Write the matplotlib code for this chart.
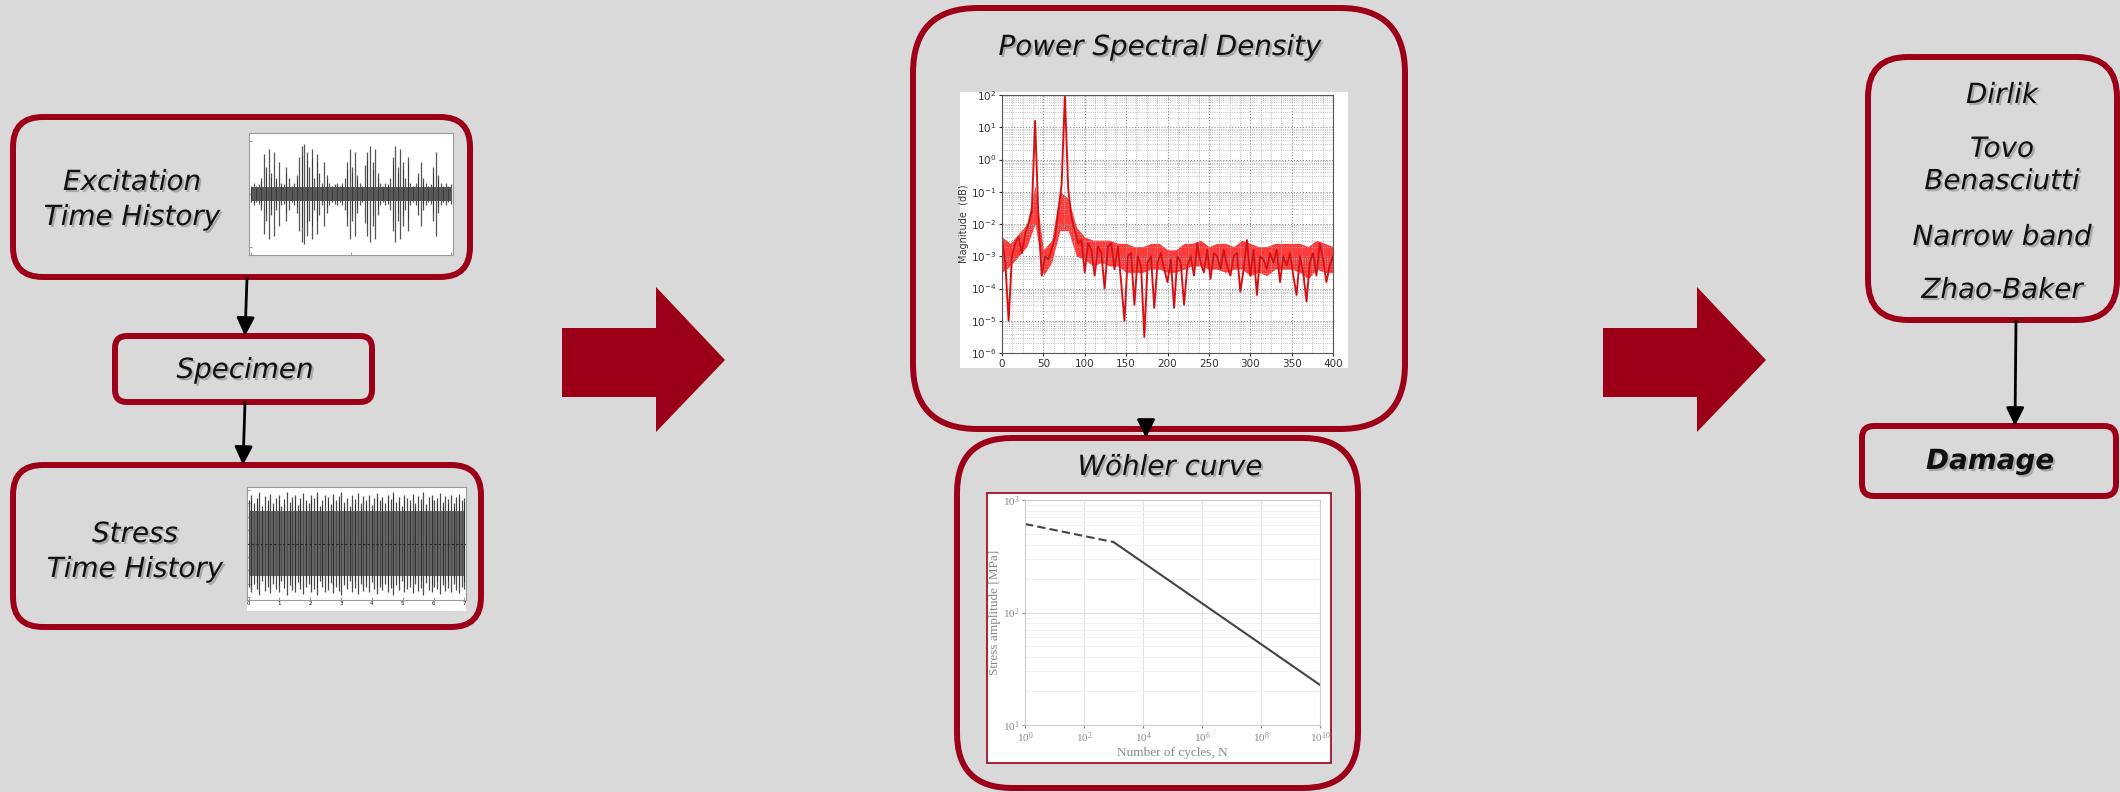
import numpy as np
import matplotlib.pyplot as plt
import matplotlib.patches as mpatches
import matplotlib.patheffects as pe

W, H = 2120, 792
BG = '#d9d9d9'
RED = '#9c0018'

# excitation time history: amplitude envelope
exc_env = [0.15, 0.2, 0.15, 0.18, 0.3, 0.75, 0.5, 0.85, 0.4, 0.8, 0.3, 0.6, 0.2, 0.18,
           0.5, 0.3, 0.15, 0.2, 0.35, 0.7, 0.9, 0.95, 0.8, 0.5, 0.85, 0.3, 0.75, 0.4,
           0.2, 0.6, 0.35, 0.2, 0.15, 0.18, 0.2, 0.15, 0.2, 0.3, 0.6, 0.85, 0.5, 0.8,
           0.35, 0.2, 0.15, 0.55, 0.8, 0.9, 0.6, 0.85, 0.4, 0.2, 0.15, 0.2, 0.18, 0.3,
           0.7, 0.9, 0.5, 0.85, 0.6, 0.3, 0.7, 0.2, 0.15, 0.2, 0.4, 0.6, 0.3, 0.2,
           0.15, 0.18, 0.5, 0.8, 0.35, 0.2, 0.15, 0.2, 0.15, 0.18]
exc_core = 0.14

# stress time history: amplitude envelope
stress_env = [0.8, 0.9, 0.75, 0.85, 0.95, 0.7, 0.88, 0.8, 0.92, 0.75, 0.85, 0.9, 0.7, 0.82,
              0.95, 0.78, 0.86, 0.9, 0.72, 0.84, 0.93, 0.8, 0.76, 0.9, 0.85, 0.95, 0.7, 0.8,
              0.9, 0.86, 0.74, 0.92, 0.8, 0.88, 0.95, 0.78, 0.84, 0.7, 0.9, 0.82, 0.94, 0.76,
              0.88, 0.8, 0.9, 0.72, 0.85, 0.93, 0.8, 0.87, 0.75, 0.9, 0.83, 0.95, 0.78, 0.86,
              0.7, 0.9, 0.84, 0.8, 0.92, 0.76, 0.88, 0.82, 0.95, 0.74, 0.86, 0.9, 0.8, 0.84,
              0.93, 0.77, 0.88, 0.82, 0.9, 0.75, 0.86, 0.92, 0.8, 0.85]
stress_core = 0.6
stress_ticks = [0, 1, 2, 3, 4, 5, 6, 7]

# PSD magnitude, log10 values, 0..400 Hz
psd_log_mag = [-2.5, -3.2, -5.0, -3.0, -2.6, -2.4, -2.9, -2.3, -2.0, -1.6, 1.2, -1.8, -3.6,
               -3.0, -3.1, -2.8, -2.4, -1.6, -0.8, 2.0, -0.9, -1.8, -2.2, -2.6, -2.5, -3.5,
               -2.6, -2.8, -3.6, -2.7, -2.9, -4.0, -2.7, -2.6, -3.4, -2.7, -3.8, -5.0, -3.0,
               -2.9, -4.5, -3.0, -3.3, -5.5, -3.2, -3.0, -4.6, -3.2, -2.9, -3.4, -3.8, -3.1,
               -4.6, -3.0, -3.2, -4.5, -3.3, -3.0, -3.6, -2.6, -3.2, -3.5, -2.8, -3.7, -2.9,
               -3.0, -3.4, -2.8, -3.3, -3.6, -3.0, -2.9, -4.1, -3.4, -2.5, -3.6, -2.8, -4.2,
               -3.0, -3.1, -3.4, -2.9, -3.2, -2.8, -3.8, -3.0, -3.3, -2.9, -3.6, -4.2, -3.0,
               -3.5, -4.4, -3.2, -2.9, -3.6, -2.6, -3.1, -3.8, -3.3, -3.0]
# dense core of the PSD trace, every 10 Hz (log10)
psd_core_hi = [-2.4, -2.6, -2.3, -2.0, -0.8, -2.8, -2.5, -1.0, -1.2, -2.1, -2.4, -2.5, -2.5,
               -2.5, -2.6, -2.6, -2.7, -2.7, -2.6, -2.6, -2.8, -2.8, -2.6, -2.6, -2.5, -2.7,
               -2.6, -2.6, -2.7, -2.5, -2.6, -2.7, -2.7, -2.6, -2.6, -2.6, -2.6, -2.7, -2.5,
               -2.6, -2.7]
psd_core_lo = [-3.5, -3.3, -3.0, -2.7, -2.0, -3.6, -3.2, -2.2, -2.2, -3.0, -3.1, -3.3, -3.2,
               -3.3, -3.3, -3.5, -3.5, -3.5, -3.4, -3.4, -3.5, -3.5, -3.4, -3.3, -3.3, -3.4,
               -3.4, -3.5, -3.4, -3.4, -3.6, -3.5, -3.6, -3.4, -3.4, -3.4, -3.5, -3.7, -3.4,
               -3.5, -3.5]
psd_xticks = [0, 50, 100, 150, 200, 250, 300, 350, 400]

# Woehler curve
sn_cycles = [1, 1e3, 1e10]
sn_stress = [612, 423, 22.7]

methods = ['Dirlik', 'Tovo\nBenasciutti', 'Narrow band', 'Zhao-Baker']

plt.rcParams['font.family'] = ['DejaVu Sans']
fig = plt.figure(figsize=(21.2, 7.92), dpi=100, facecolor=BG)
ax = fig.add_axes([0, 0, 1, 1])
ax.set_xlim(0, W)
ax.set_ylim(H, 0)
ax.axis('off')

shadow = [pe.withSimplePatchShadow(offset=(1.5, -1.5), shadow_rgbFace='#7a7a7a', alpha=0.5)]


def box(x0, y0, x1, y1, r):
    ax.add_patch(mpatches.FancyBboxPatch((x0, y0), x1 - x0, y1 - y0,
                 boxstyle=f'round,pad=0,rounding_size={r}',
                 facecolor='none', edgecolor=RED, linewidth=4.3, zorder=3))


def label(x, y, s, **kw):
    ax.text(x, y, s, ha='center', va='center', fontsize=20, style='italic',
            color='#111111', path_effects=shadow, zorder=5, **kw)


def arrow(x0, y0, x1, y1):
    ax.annotate('', xy=(x1, y1), xytext=(x0, y0),
                arrowprops=dict(arrowstyle='-|>,head_length=0.55,head_width=0.27',
                                color='black', lw=2, mutation_scale=20,
                                shrinkA=0, shrinkB=0), zorder=4)


def big_arrow(x0):
    pts = [(x0, 328), (x0 + 94, 328), (x0 + 94, 287), (x0 + 163, 360),
           (x0 + 94, 432), (x0 + 94, 397), (x0, 397)]
    ax.add_patch(mpatches.Polygon(pts, closed=True, facecolor=RED, edgecolor='none'))


def inset(x0, y0, x1, y1):
    return fig.add_axes([x0 / W, 1 - y1 / H, (x1 - x0) / W, (y1 - y0) / H])


# ---- left column ----
box(13, 117, 470, 277, 30)
label(132, 182, 'Excitation')
label(132, 217, 'Time History')
box(115, 336, 372, 402, 12)
label(245, 370, 'Specimen')
box(13, 465, 481, 627, 30)
label(135, 534, 'Stress')
label(135, 569, 'Time History')
arrow(247, 278, 245, 336)
arrow(245, 402, 243, 465)

ex = inset(249, 133, 453, 255)
t = np.linspace(0, 1, len(exc_env))
env = np.array(exc_env)
ex.fill_between([0, 1], -exc_core, exc_core, color='#5a5a5a', lw=0)
ex.vlines(t, -env, env, color='#555555', lw=0.9)
ex.vlines(t[::2], -env[::2] * 0.7, env[::2] * 0.8, color='#333333', lw=0.6)
ex.set_xlim(-0.01, 1.01)
ex.set_ylim(-1.15, 1.15)
ex.tick_params(direction='in', length=2, labelbottom=False, labelleft=False, color='#999')
for s in ex.spines.values():
    s.set_color('#999999')

st = inset(247, 487, 466, 600)
t2 = np.linspace(0, 7, len(stress_env))
env2 = np.array(stress_env)
st.fill_between([0, 7], -stress_core, stress_core, color='#6a6a6a', lw=0)
st.vlines(t2, -env2, env2, color='#4a4a4a', lw=0.9)
st.vlines(t2[1::2], -env2[1::2] * 0.85, env2[1::2] * 0.9, color='#2a2a2a', lw=0.6)
st.axhline(0, color='#222222', lw=0.8, ls=(0, (2, 2)))
st.set_xlim(-0.05, 7.05)
st.set_ylim(-1.05, 1.05)
st.set_xticks(stress_ticks)
st.tick_params(direction='in', length=2, labelsize=4, pad=1, labelleft=False, color='#999')
for s in st.spines.values():
    s.set_color('#999999')
ax.add_patch(mpatches.Rectangle((247, 487), 219, 124, facecolor='white', edgecolor='none', zorder=1))

# ---- middle column ----
box(913, 8, 1405, 429, 65)
label(1160, 47, 'Power Spectral Density')
ax.add_patch(mpatches.Rectangle((960, 92), 388, 276, facecolor='white', edgecolor='none', zorder=1))
ps = inset(1002, 95, 1333, 353)
freq = np.linspace(0, 400, len(psd_log_mag))
fcore = np.linspace(0, 400, len(psd_core_hi))
ps.fill_between(fcore, 10 ** np.array(psd_core_lo), 10 ** np.array(psd_core_hi),
                color='#ff1a1a', alpha=0.85, lw=0)
ps.plot(freq, 10 ** np.array(psd_log_mag), color='#e8161c', lw=1.4)
ps.plot(freq, 10 ** np.array(psd_log_mag), color='#8a1010', lw=0.4, alpha=0.6)
ps.set_yscale('log')
ps.set_xlim(0, 400)
ps.set_ylim(1e-6, 1e2)
ps.set_xticks(psd_xticks)
ps.set_xticks(np.arange(0, 401, 12.5), minor=True)
ps.set_yticks([10.0 ** k for k in range(-6, 3)])
ps.grid(True, which='major', color='#8c8c8c', ls=':', lw=0.8)
ps.grid(True, which='minor', color='#a8a8a8', ls=':', lw=0.6)
ps.tick_params(labelsize=7.5, colors='#333333', length=2, pad=2)
ps.tick_params(which='minor', length=0)
ps.set_ylabel('Magnitude  (dB)', fontsize=7, color='#333333', labelpad=1)
for s in ps.spines.values():
    s.set_color('#555555')
    s.set_linewidth(0.8)

arrow(1146, 429, 1146, 438)
box(957, 438, 1358, 788, 55)
label(1170, 467, 'Wöhler curve')
ax.add_patch(mpatches.Rectangle((987, 493), 344, 270, facecolor='white', edgecolor=RED, lw=1.2, zorder=1))
wo = inset(1025, 500, 1320, 725)
wo.plot(sn_cycles[:2], sn_stress[:2], color='#444444', lw=1.5, ls=(0, (4, 2)))
wo.plot(sn_cycles[1:], sn_stress[1:], color='#444444', lw=1.5)
wo.set_xscale('log')
wo.set_yscale('log')
wo.set_xlim(1, 1e10)
wo.set_ylim(10, 1000)
wo.set_xticks([10.0 ** k for k in range(0, 11, 2)])
wo.set_xticks([], minor=True)
wo.grid(True, which='major', color='#e2e2e2', lw=0.8)
wo.grid(True, which='minor', axis='y', color='#efefef', lw=0.6)
serif = ['Liberation Serif', 'DejaVu Serif']
wo.tick_params(labelsize=8, colors='#888888', length=2, pad=2)
wo.tick_params(which='minor', length=0)
for lab in wo.get_xticklabels() + wo.get_yticklabels():
    lab.set_family(serif)
wo.set_xlabel('Number of cycles, N', fontsize=9.5, color='#888888', family=serif, labelpad=1)
wo.set_ylabel('Stress amplitude [MPa]', fontsize=9.5, color='#888888', family=serif, labelpad=1)
for s in wo.spines.values():
    s.set_color('#cccccc')

# ---- big arrows ----
big_arrow(562)
big_arrow(1603)

# ---- right column ----
box(1868, 57, 2117, 320, 40)
label(2002, 95, methods[0])
label(2002, 165, methods[1], linespacing=1.2)
label(2002, 237, methods[2])
label(2002, 290, methods[3])
arrow(2016, 320, 2015, 426)
box(1862, 426, 2116, 496, 12)
ax.text(1990, 461, 'Damage', ha='center', va='center', fontsize=20, style='italic',
        weight='bold', color='#111111', path_effects=shadow, zorder=5)

fig.savefig('out.png', dpi=100, facecolor=BG)
